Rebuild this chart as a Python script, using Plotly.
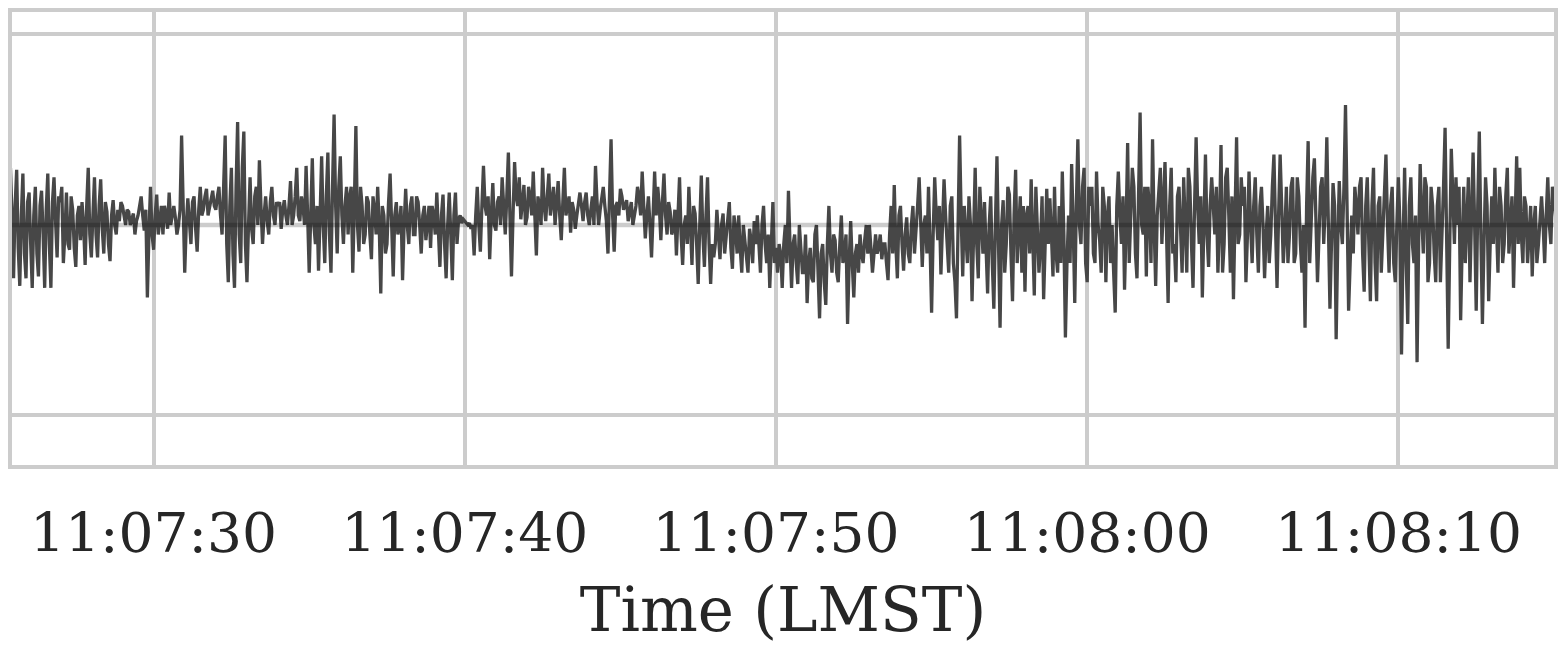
import numpy as np
import pandas as pd
import plotly.graph_objects as go

# signal samples at 20 Hz from 11:07:25.00; "even" = whole 0.1 s, "odd" = the 0.05 s in between
even_25_34 = [
    0.0, 0.1, -0.1, 0.2, 0.3, -0.28, 0.29, -0.32, 0.27, -0.28,
    0.17, -0.33, 0.2, -0.27, 0.18, -0.33, 0.27, -0.33, 0.25, -0.17,
    0.12, -0.2, 0.17, -0.13, 0.08, -0.22, 0.1, 0.12, -0.21, 0.3,
    -0.17, 0.25, -0.17, 0.24, -0.15, 0.07, -0.19, 0.13, -0.05, 0.02,
    0.1, 0.0, 0.07, 0.03, -0.05, 0.05, 0.15, -0.03, -0.38, 0.2,
    -0.13, 0.16, 0.02, -0.05, 0.06, 0.17, 0.05, 0.04, 0.0, 0.47,
    -0.25, 0.14, -0.1, 0.15, -0.14, 0.2, 0.08, 0.19, 0.1, 0.18,
    0.08, 0.2, -0.05, 0.47, -0.3, 0.3, -0.33, 0.54, -0.2, 0.49,
    -0.3, 0.25, -0.1, 0.2, 0.34, -0.1, 0.15, -0.05, 0.2, 0.0,
    0.1, -0.02, 0.13, 0.0, 0.23, 0.05, 0.3, 0.02, 0.1, 0.31,
]
odd_25_34 = [
    -0.12, 0.02, 0.12, -0.15, 0.05, 0.1, -0.12, 0.05, -0.15, 0.12,
    -0.1, 0.05, -0.15, 0.1, -0.05, 0.08, -0.1, 0.12, 0.02, 0.15,
    0.2, -0.05, -0.1, 0.15, -0.12, 0.05, -0.08, 0.0, 0.1, -0.05,
    0.05, -0.05, 0.1, -0.02, 0.12, -0.1, 0.05, 0.0, 0.08, 0.12,
    0.05, 0.08, 0.0, 0.06, 0.02, 0.1, 0.05, 0.08, -0.05, -0.05,
    0.05, -0.05, 0.1, 0.1, -0.02, 0.0, 0.1, -0.05, 0.08, 0.1,
    0.0, 0.02, 0.12, -0.02, 0.08, 0.05, 0.15, 0.05, 0.14, 0.1,
    0.15, 0.05, 0.2, -0.1, 0.1, -0.15, 0.2, -0.05, 0.3, -0.1,
    0.0, -0.02, 0.15, 0.0, 0.1, 0.05, 0.02, 0.12, 0.05, 0.12,
    0.12, 0.08, 0.05, 0.1, 0.0, 0.15, 0.05, 0.15, 0.0, 0.05,
]
even_35_44 = [
    -0.25, 0.35, -0.1, -0.24, 0.36, -0.2, 0.38, -0.25, 0.58, -0.15,
    0.36, -0.1, 0.2, 0.15, -0.25, 0.52, -0.14, 0.1, -0.05, 0.12,
    -0.18, 0.08, 0.2, -0.36, 0.05, -0.1, 0.27, -0.27, 0.12, 0.0,
    -0.29, 0.19, -0.1, 0.15, -0.05, 0.12, -0.15, 0.1, 0.0, -0.12,
    0.05, 0.17, -0.22, 0.16, -0.28, 0.17, -0.29, 0.17, 0.03, 0.01,
    0.02, 0.0, -0.02, -0.16, 0.2, -0.14, 0.31, 0.05, -0.18, 0.22,
    -0.03, 0.15, 0.25, -0.05, 0.38, -0.27, 0.33, 0.1, 0.03, 0.21,
    0.04, 0.15, 0.28, -0.16, 0.1, 0.3, 0.02, 0.27, 0.15, 0.0,
    0.23, -0.08, 0.3, 0.1, -0.04, 0.08, 0.05, 0.17, 0.02, 0.17,
    0.0, 0.15, 0.31, 0.0, 0.15, 0.1, -0.15, 0.45, -0.14, 0.12,
]
odd_35_44 = [
    0.05, 0.0, 0.1, 0.05, 0.0, 0.15, -0.05, 0.2, 0.1, 0.2,
    0.05, 0.1, -0.05, 0.2, 0.1, 0.0, 0.2, -0.1, 0.15, -0.05,
    0.15, -0.05, 0.0, 0.1, -0.15, 0.12, 0.0, 0.05, -0.05, 0.1,
    0.0, 0.0, 0.1, -0.05, 0.15, 0.0, 0.05, -0.08, 0.1, 0.1,
    -0.05, 0.0, 0.05, -0.1, 0.0, -0.05, 0.05, -0.1, 0.05, 0.03,
    0.01, 0.01, 0.0, 0.05, 0.0, 0.1, 0.1, 0.15, 0.05, 0.0,
    0.12, 0.0, 0.1, 0.15, 0.05, 0.05, 0.15, 0.25, 0.12, 0.0,
    0.2, 0.05, 0.05, 0.15, 0.0, 0.1, 0.15, 0.05, 0.2, 0.12,
    0.05, 0.12, 0.05, 0.15, 0.12, -0.02, 0.12, 0.1, 0.12, 0.05,
    0.08, 0.0, 0.12, 0.08, 0.2, 0.02, 0.1, 0.05, 0.1, 0.05,
]
even_45_54 = [
    0.19, 0.08, 0.13, 0.06, 0.0, 0.1, 0.15, 0.28, -0.07, 0.15,
    -0.17, 0.28, 0.2, -0.08, 0.27, -0.05, 0.07, -0.02, -0.16, 0.25,
    -0.21, 0.05, 0.2, -0.21, 0.06, -0.31, 0.26, -0.22, 0.25, -0.31,
    -0.17, 0.08, -0.18, 0.06, -0.05, 0.12, -0.23, -0.02, 0.05, -0.25,
    -0.1, -0.25, -0.08, 0.02, 0.05, -0.25, 0.1, -0.2, -0.33, 0.12,
    -0.12, -0.1, -0.33, 0.0, 0.18, -0.33, -0.05, -0.31, -0.1, -0.25,
    -0.41, -0.12, -0.3, 0.0, -0.49, -0.1, -0.42, 0.1, -0.25, -0.08,
    -0.3, 0.05, -0.15, -0.52, 0.02, -0.38, -0.1, -0.05, -0.2, 0.0,
    0.0, -0.25, -0.05, -0.12, -0.18, -0.1, -0.29, 0.1, 0.21, -0.28,
    0.1, -0.24, 0.04, -0.2, 0.1, -0.05, 0.25, -0.22, 0.05, 0.2,
]
odd_45_54 = [
    0.15, 0.1, 0.02, 0.12, 0.05, 0.2, 0.05, 0.1, 0.05, 0.0,
    0.05, 0.05, 0.1, 0.12, 0.05, 0.12, -0.05, 0.08, 0.05, -0.05,
    0.0, -0.1, 0.0, 0.1, -0.1, 0.0, -0.05, 0.05, -0.1, -0.1,
    -0.1, -0.05, 0.0, -0.15, 0.05, -0.12, 0.05, -0.15, -0.12, 0.0,
    -0.2, -0.02, -0.2, -0.1, -0.1, 0.0, -0.1, -0.05, -0.1, -0.2,
    -0.25, -0.15, -0.1, -0.2, -0.1, -0.1, -0.2, 0.0, -0.25, -0.05,
    -0.2, -0.28, -0.05, -0.3, -0.15, -0.3, -0.1, -0.15, -0.05, -0.25,
    -0.1, -0.2, -0.05, -0.2, -0.2, -0.15, -0.25, -0.15, -0.08, -0.15,
    -0.12, -0.15, -0.15, -0.05, -0.1, -0.2, -0.05, -0.15, -0.1, 0.05,
    -0.1, -0.05, -0.15, 0.0, -0.15, 0.1, -0.05, 0.0, -0.15, -0.1,
]
even_55_64 = [
    -0.46, 0.25, -0.08, -0.26, 0.24, -0.12, 0.1, -0.2, -0.49, 0.47,
    -0.27, -0.05, 0.15, -0.4, 0.3, -0.28, 0.06, 0.12, -0.36, 0.15,
    -0.44, 0.36, -0.54, 0.13, -0.1, 0.16, -0.4, 0.29, 0.0, -0.25,
    -0.35, 0.1, 0.24, -0.37, 0.0, -0.1, -0.39, 0.19, 0.14, -0.27,
    -0.15, 0.1, 0.28, -0.59, 0.05, 0.32, -0.41, 0.45, -0.1, 0.3,
    -0.3, 0.1, -0.15, 0.28, -0.08, 0.2, -0.3, 0.15, 0.0, -0.46,
    0.28, -0.1, -0.34, 0.43, 0.05, 0.2, -0.28, 0.59, -0.05, -0.27,
    0.1, 0.45, -0.32, 0.2, -0.1, 0.33, -0.41, 0.3, -0.1, 0.15,
    -0.05, 0.25, -0.25, 0.2, -0.33, 0.46, -0.1, -0.38, 0.37, -0.22,
    0.25, -0.05, -0.25, 0.42, -0.1, 0.3, -0.25, -0.39, 0.46, -0.05,
]
odd_55_64 = [
    -0.05, 0.05, 0.1, 0.0, 0.05, -0.25, 0.15, -0.3, 0.0, 0.05,
    0.1, -0.2, 0.0, 0.05, -0.1, 0.2, -0.15, -0.1, 0.0, -0.2,
    0.0, -0.1, 0.0, -0.25, 0.2, -0.15, 0.05, -0.2, 0.15, 0.1,
    0.05, -0.15, -0.1, 0.2, -0.25, 0.15, 0.0, -0.1, -0.05, 0.2,
    -0.25, -0.2, -0.05, -0.2, -0.2, 0.0, 0.1, 0.0, 0.2, -0.2,
    0.2, 0.2, -0.2, 0.0, -0.25, 0.1, 0.05, -0.2, -0.25, 0.1,
    0.05, 0.15, 0.0, -0.2, 0.3, -0.15, 0.2, 0.0, 0.2, 0.2,
    -0.2, 0.0, 0.05, 0.3, 0.15, -0.05, 0.1, -0.15, -0.3, 0.2,
    -0.25, 0.0, 0.3, -0.1, 0.1, 0.1, 0.15, 0.0, -0.05, 0.1,
    0.1, 0.2, 0.0, -0.25, 0.25, 0.05, 0.15, 0.05, -0.1, 0.25,
]
even_65_75 = [
    0.1, -0.3, 0.28, -0.2, 0.25, -0.25, 0.2, -0.28, 0.1, -0.05,
    0.37, -0.33, 0.37, -0.2, 0.2, -0.05, 0.25, -0.15, 0.15, -0.25,
    -0.54, 0.44, 0.1, 0.35, -0.3, 0.2, -0.1, 0.46, -0.44, 0.22,
    -0.6, 0.23, -0.1, 0.63, -0.45, 0.05, 0.2, -0.05, 0.25, -0.35,
    0.25, -0.4, 0.3, -0.4, 0.15, 0.0, 0.37, -0.25, 0.2, -0.3,
    0.25, -0.68, 0.3, -0.52, 0.25, -0.2, -0.72, 0.32, -0.15, 0.2,
    -0.2, 0.1, -0.3, 0.2, -0.1, 0.51, -0.65, 0.4, -0.1, 0.0,
    -0.5, 0.2, 0.1, -0.3, 0.38, -0.45, 0.49, -0.52, 0.25, -0.4,
    0.15, 0.3, -0.25, 0.1, -0.1, 0.3, 0.05, -0.33, 0.36, 0.3,
    -0.2, 0.1, -0.08, -0.27, 0.1, -0.1, 0.15, -0.2, 0.25, -0.1,
    0.15, -0.08, -0.1,
]
odd_65_75 = [
    0.2, -0.05, 0.0, 0.1, -0.05, 0.1, 0.0, -0.05, -0.2, 0.2,
    0.0, 0.05, 0.1, -0.05, -0.2, 0.2, -0.2, 0.25, -0.1, 0.0,
    0.1, -0.2, 0.25, 0.0, -0.05, 0.25, 0.1, 0.0, -0.1, 0.1,
    -0.1, 0.0, 0.2, 0.1, -0.2, -0.15, 0.1, 0.2, -0.15, 0.1,
    -0.1, 0.1, -0.2, 0.1, -0.25, 0.2, 0.0, 0.1, -0.2, 0.0,
    0.0, -0.1, -0.2, 0.1, -0.1, 0.05, -0.1, 0.05, 0.25, -0.3,
    0.2, -0.15, 0.1, -0.3, 0.2, 0.0, -0.1, 0.15, 0.25, 0.2,
    -0.1, -0.2, 0.25, 0.05, 0.0, 0.1, -0.05, -0.1, 0.1, -0.1,
    -0.1, 0.0, 0.2, -0.2, 0.15, -0.15, 0.15, 0.05, -0.1, -0.05,
    0.15, -0.2, 0.1, 0.0, -0.2, 0.05, 0.0, 0.05, 0.0, 0.2,
    0.05, 0.0, 0.0,
]

even = even_25_34 + even_35_44 + even_45_54 + even_55_64 + even_65_75
odd = odd_25_34 + odd_35_44 + odd_45_54 + odd_55_64 + odd_65_75
signal = [v for pair in zip(even, odd) for v in pair]

start = pd.Timestamp("2021-01-01 11:07:25")
times = start + pd.to_timedelta(np.arange(len(signal)) * 50, unit="ms")

x_range = ["2021-01-01 11:07:25.45", "2021-01-01 11:08:15.00"]
y_range = [-1.26, 1.118]
y_grid = [-1, 1]

grid = "#cccccc"
text_col = "#262626"
font_family = "DejaVu Serif, serif"

fig = go.Figure()
fig.add_trace(go.Scatter(x=times, y=signal, mode="lines",
                         line=dict(color="#474747", width=3.3),
                         showlegend=False, hoverinfo="skip"))

# zero reference line, drawn over the trace
fig.add_shape(type="line", xref="paper", x0=0, x1=1, yref="y", y0=0, y1=0,
              line=dict(color="rgba(0,0,0,0.2)", width=4.5), layer="above")

fig.update_layout(
    width=1550, height=637,
    margin=dict(l=4, r=0, t=4, b=180),
    plot_bgcolor="white", paper_bgcolor="white",
    font=dict(family=font_family, color=text_col),
)
fig.update_xaxes(
    type="date", range=x_range, dtick=10000, tickformat="%H:%M:%S",
    showgrid=True, gridcolor=grid, gridwidth=3.5,
    showline=True, linecolor=grid, linewidth=4, mirror=True,
    ticks="outside", ticklen=17, tickcolor="rgba(0,0,0,0)",
    tickfont=dict(size=55, family=font_family, color=text_col),
    title=dict(text="Time (LMST)", font=dict(size=61, family=font_family, color=text_col),
               standoff=26),
    zeroline=False,
)
fig.update_yaxes(
    range=y_range, tickvals=y_grid, showticklabels=False,
    showgrid=True, gridcolor=grid, gridwidth=3.5,
    showline=True, linecolor=grid, linewidth=4, mirror=True,
    zeroline=False,
)

fig.write_html("out.html")
